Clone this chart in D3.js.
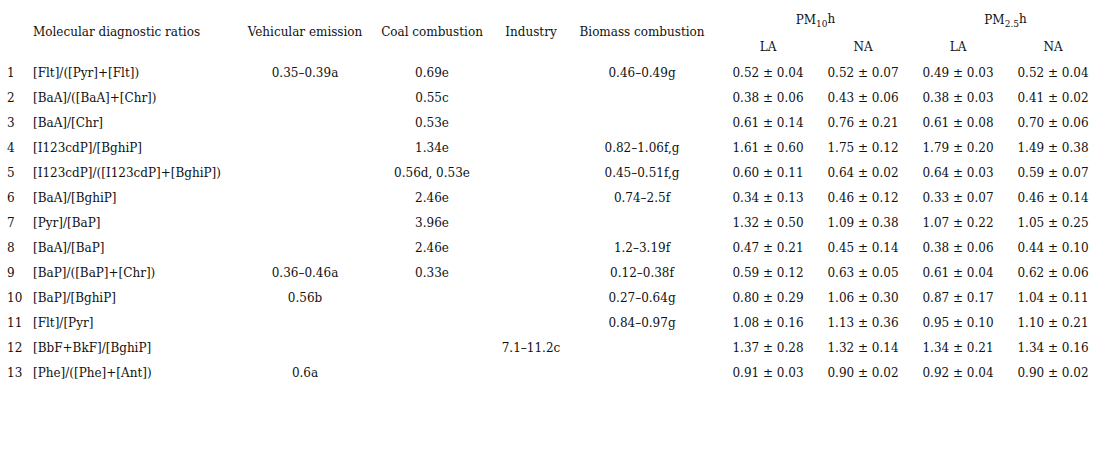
<!DOCTYPE html>
<html><head><meta charset="utf-8">
<script src="https://cdn.jsdelivr.net/npm/d3@7"></script>
<style>body{margin:0;background:#fff}text{font-family:"DejaVu Serif",serif;font-size:12px;fill:#111}</style>
</head><body><svg id="t" width="1109" height="457"></svg>
<script>
"use strict";
const ratios = ["[Flt]/([Pyr]+[Flt])","[BaA]/([BaA]+[Chr])","[BaA]/[Chr]","[I123cdP]/[BghiP]","[I123cdP]/([I123cdP]+[BghiP])","[BaA]/[BghiP]","[Pyr]/[BaP]","[BaA]/[BaP]","[BaP]/([BaP]+[Chr])","[BaP]/[BghiP]","[Flt]/[Pyr]","[BbF+BkF]/[BghiP]","[Phe]/([Phe]+[Ant])"];
const vehicular = ["0.35–0.39a","","","","","","","","0.36–0.46a","0.56b","","","0.6a"];
const coal = ["0.69e","0.55c","0.53e","1.34e","0.56d, 0.53e","2.46e","3.96e","2.46e","0.33e","","","",""];
const industry = ["","","","","","","","","","","","7.1–11.2c",""];
const biomass = ["0.46–0.49g","","","0.82–1.06f,g","0.45–0.51f,g","0.74–2.5f","","1.2–3.19f","0.12–0.38f","0.27–0.64g","0.84–0.97g","",""];
const pm10LA = ["0.52 ± 0.04","0.38 ± 0.06","0.61 ± 0.14","1.61 ± 0.60","0.60 ± 0.11","0.34 ± 0.13","1.32 ± 0.50","0.47 ± 0.21","0.59 ± 0.12","0.80 ± 0.29","1.08 ± 0.16","1.37 ± 0.28","0.91 ± 0.03"];
const pm10NA = ["0.52 ± 0.07","0.43 ± 0.06","0.76 ± 0.21","1.75 ± 0.12","0.64 ± 0.02","0.46 ± 0.12","1.09 ± 0.38","0.45 ± 0.14","0.63 ± 0.05","1.06 ± 0.30","1.13 ± 0.36","1.32 ± 0.14","0.90 ± 0.02"];
const pm25LA = ["0.49 ± 0.03","0.38 ± 0.03","0.61 ± 0.08","1.79 ± 0.20","0.64 ± 0.03","0.33 ± 0.07","1.07 ± 0.22","0.38 ± 0.06","0.61 ± 0.04","0.87 ± 0.17","0.95 ± 0.10","1.34 ± 0.21","0.92 ± 0.04"];
const pm25NA = ["0.52 ± 0.04","0.41 ± 0.02","0.70 ± 0.06","1.49 ± 0.38","0.59 ± 0.07","0.46 ± 0.14","1.05 ± 0.25","0.44 ± 0.10","0.62 ± 0.06","1.04 ± 0.11","1.10 ± 0.21","1.34 ± 0.16","0.90 ± 0.02"];
const headers = ["Molecular diagnostic ratios","Vehicular emission","Coal combustion","Industry","Biomass combustion"];

const svg = d3.select("#t");
const y = d3.scalePoint().domain(d3.range(13)).range([73, 373]);
// column anchors: [x, anchor]
const cols = [
  {x: 33, a: "start", data: ratios, h: headers[0]},
  {x: 305, a: "middle", data: vehicular, h: headers[1]},
  {x: 432, a: "middle", data: coal, h: headers[2]},
  {x: 531, a: "middle", data: industry, h: headers[3]},
  {x: 642, a: "middle", data: biomass, h: headers[4]},
];
const valCols = [pm10LA, pm10NA, pm25LA, pm25NA];
const vx = d3.scalePoint().domain(d3.range(4)).range([768, 1053]);

svg.selectAll("text.num").data(d3.range(13)).join("text")
  .attr("x", 7).attr("y", d => y(d)).attr("dy", "0.35em").text(d => d + 1);

cols.forEach(c => {
  svg.append("text").attr("x", c.x).attr("y", 32).attr("dy", "0.35em")
    .attr("text-anchor", c.a).text(c.h);
  svg.selectAll(null).data(c.data).join("text")
    .attr("x", c.x).attr("y", (d, i) => y(i)).attr("dy", "0.35em")
    .attr("text-anchor", c.a).text(d => d);
});

valCols.forEach((col, j) => {
  svg.append("text").attr("x", vx(j)).attr("y", 47).attr("dy", "0.35em")
    .attr("text-anchor", "middle").text(j % 2 ? "NA" : "LA");
  svg.selectAll(null).data(col).join("text")
    .attr("x", vx(j)).attr("y", (d, i) => y(i)).attr("dy", "0.35em")
    .attr("text-anchor", "middle").attr("xml:space", "preserve").text(d => d);
});

[["10", 0], ["2.5", 2]].forEach(([sub, j]) => {
  const t = svg.append("text").attr("x", (vx(j) + vx(j + 1)) / 2).attr("y", 20)
    .attr("dy", "0.35em").attr("text-anchor", "middle");
  t.append("tspan").text("PM");
  t.append("tspan").attr("dy", "0.35em").attr("font-size", "9px").text(sub);
  t.append("tspan").attr("dy", "-0.35em").text("h");
});
</script></body></html>
